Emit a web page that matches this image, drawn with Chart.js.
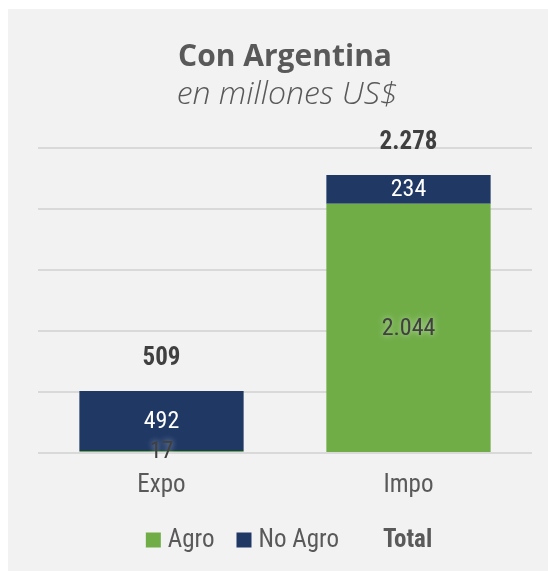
<!DOCTYPE html>
<html>
<head>
<meta charset="utf-8">
<script src="https://cdn.jsdelivr.net/npm/chart.js@4.4.1/dist/chart.umd.min.js"></script>
<style>
  html, body { margin: 0; padding: 0; background: #ffffff; }
  #wrap { position: absolute; left: 8px; top: 9px; width: 540px; height: 562px; background: #F2F2F2; }
  canvas { display: block; }
</style>
</head>
<body>
<div id="wrap"><canvas id="c" width="540" height="562"></canvas></div>
<script>
// ---- data ----
const categories = ['Expo', 'Impo'];
const agroValues = [17, 2044];
const noAgroValues = [492, 234];
const totalValues = [509, 2278];
const seriesNames = ['Agro', 'No Agro', 'Total'];
const yMin = 0, yMax = 2500, yStep = 500;
const titleText = 'Con Argentina';
const subtitleText = 'en millones US$';

// ---- styles ----
const GREEN = '#70AD47';
const NAVY = '#1F3864';
const GRAY_TXT = '#595959';
const DARK_TXT = '#404040';
const NARROW = "'Liberation Sans Narrow','Arial Narrow','Roboto Condensed','DejaVu Sans Condensed',sans-serif";
const SANS = "'Open Sans','Noto Sans',sans-serif";

function fmt(v) {
  return String(Math.round(v)).replace(/\B(?=(\d{3})+(?!\d))/g, '.');
}

const decor = {
  id: 'decor',
  afterDatasetsDraw(chart) {
    const ctx = chart.ctx;
    const area = chart.chartArea;
    const cx = (area.left + area.right) / 2;
    ctx.save();
    // title
    ctx.fillStyle = GRAY_TXT;
    ctx.textAlign = 'center';
    ctx.textBaseline = 'alphabetic';
    ctx.font = 'bold 30px ' + SANS;
    ctx.fillText(titleText, cx, 57);
    ctx.font = 'italic 300 32px ' + SANS;
    ctx.fillText(subtitleText, cx + 2, 95);

    // data labels inside bars
    ctx.textBaseline = 'middle';
    const labelColors = [DARK_TXT, '#FFFFFF'];
    chart.data.datasets.forEach((ds, di) => {
      const meta = chart.getDatasetMeta(di);
      meta.data.forEach((bar, i) => {
        const y = (bar.y + bar.base) / 2;
        ctx.font = '24px ' + NARROW;
        ctx.fillStyle = labelColors[di];
        if (di === 0) {
          ctx.shadowColor = 'rgba(255,255,255,0.6)';
          ctx.shadowBlur = 6;
        } else {
          ctx.shadowColor = 'transparent';
          ctx.shadowBlur = 0;
        }
        ctx.fillText(fmt(ds.data[i]), bar.x, y + 1);
      });
    });
    ctx.shadowColor = 'transparent';
    ctx.shadowBlur = 0;

    // totals
    const yScale = chart.scales.y;
    const meta0 = chart.getDatasetMeta(0);
    ctx.font = 'bold 25px ' + NARROW;
    ctx.fillStyle = DARK_TXT;
    totalValues.forEach((t, i) => {
      const x = meta0.data[i].x;
      const y = yScale.getPixelForValue(t) - 32;
      ctx.fillText(fmt(t), x, y);
    });

    // legend
    const items = [
      { text: seriesNames[0], color: GREEN, bold: false },
      { text: seriesNames[1], color: NAVY, bold: false },
      { text: seriesNames[2], color: null, bold: true }
    ];
    const box = 15, gap = 7, itemGap = 22;
    let widths = items.map(it => {
      ctx.font = (it.bold ? 'bold ' : '') + '25px ' + NARROW;
      return box + gap + ctx.measureText(it.text).width;
    });
    const totalW = widths.reduce((a, b) => a + b, 0) + itemGap * (items.length - 1);
    let x = cx + 4 - totalW / 2;
    const ly = 531;
    ctx.textAlign = 'left';
    ctx.textBaseline = 'middle';
    items.forEach((it, k) => {
      if (it.color) {
        ctx.fillStyle = it.color;
        ctx.fillRect(x, ly - box / 2, box, box);
      }
      ctx.font = (it.bold ? 'bold ' : '') + '25px ' + NARROW;
      ctx.fillStyle = GRAY_TXT;
      ctx.fillText(it.text, x + box + gap, ly + 1);
      x += widths[k] + itemGap;
    });
    ctx.restore();
  }
};

new Chart(document.getElementById('c'), {
  type: 'bar',
  data: {
    labels: categories,
    datasets: [
      { label: seriesNames[0], data: agroValues, backgroundColor: GREEN, borderWidth: 0 },
      { label: seriesNames[1], data: noAgroValues, backgroundColor: NAVY, borderWidth: 0 }
    ]
  },
  options: {
    responsive: false,
    animation: false,
    events: [],
    layout: { padding: { top: 139, left: 30, right: 16, bottom: 60 } },
    datasets: { bar: { barPercentage: 0.665, categoryPercentage: 1.0 } },
    plugins: { legend: { display: false }, title: { display: false }, tooltip: { enabled: false } },
    scales: {
      x: {
        stacked: true,
        grid: { display: false },
        border: { display: false },
        ticks: { color: GRAY_TXT, font: { family: NARROW, size: 25 }, padding: 10 }
      },
      y: {
        stacked: true,
        min: yMin, max: yMax,
        ticks: { display: false, stepSize: yStep },
        grid: { color: '#D9D9D9', lineWidth: 2, drawTicks: false },
        border: { display: false }
      }
    }
  },
  plugins: [decor]
});
</script>
</body>
</html>
